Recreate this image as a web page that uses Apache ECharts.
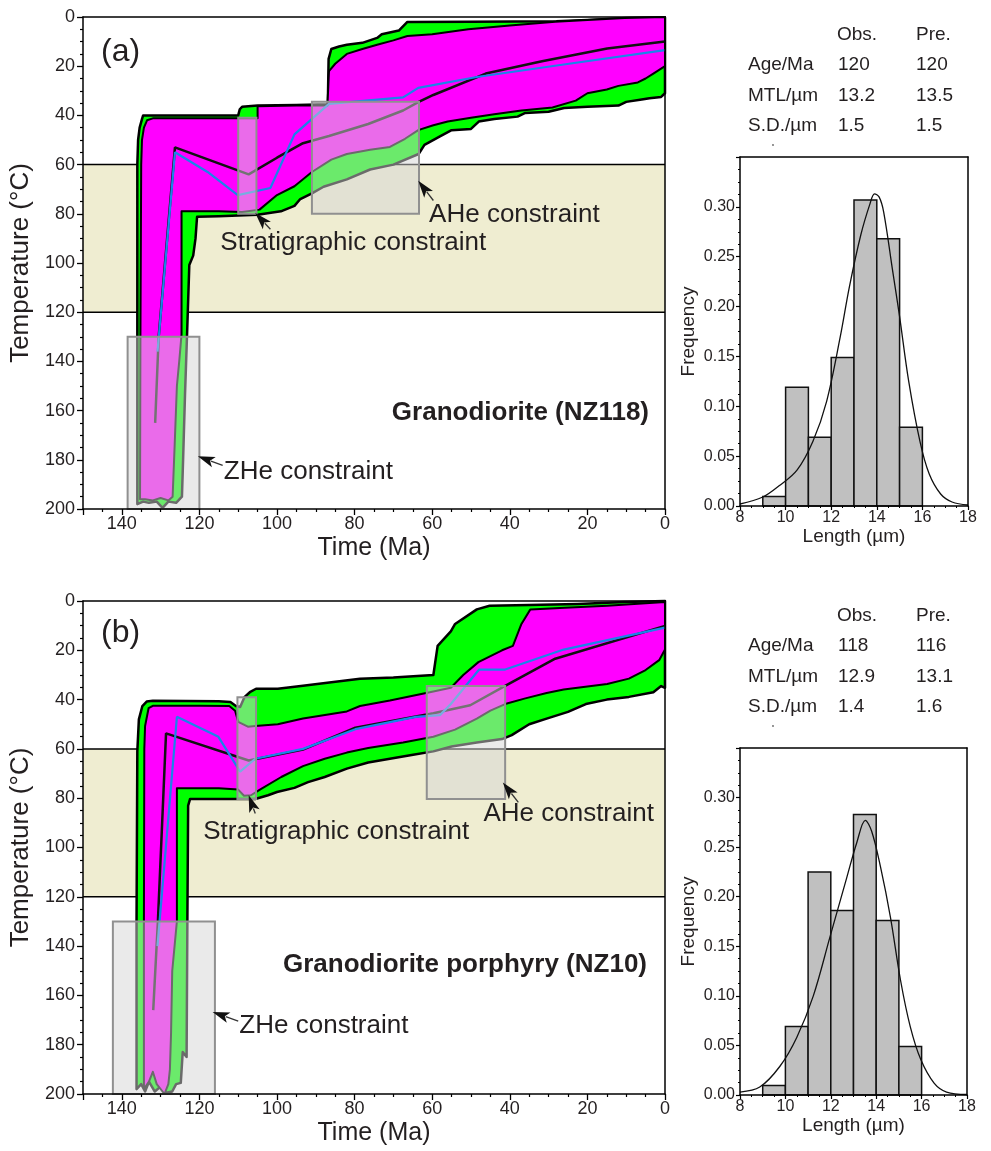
<!DOCTYPE html>
<html>
<head>
<meta charset="utf-8">
<title>Thermal history models</title>
<script src="https://cdn.jsdelivr.net/npm/echarts@6/dist/echarts.min.js"></script>
<style>
  html, body { margin: 0; padding: 0; background: #fff; }
  #chart { width: 991px; height: 1151px; }
</style>
</head>
<body>
<div id="chart"></div>
<script>
// ---------------- data ----------------
const timeMax = 150;          // Ma
const tempMax = 200;          // deg C
const annealZone = [60, 120]; // partial annealing zone, deg C

// (a) Granodiorite (NZ118): envelopes as [time Ma, temperature C]
const acceptA = [
  [136,198],[136,60],[135.8,50],[135.4,45],[134.8,41.5],[134.5,40],
  [110,40],[109.6,37.5],[109,36.5],[105,36],[95,35.8],[86.9,35.5],
  [86.7,17],[86,13],[84,12],[82,11.3],[78,10.5],[74.2,8.5],[73,7],[68.6,5.5],[66.4,2],
  [50,1.9],[28,1.7],[20,1.2],[10,0.4],[0,0.2],
  [0,31],[1,32.5],[4,33],[6,33.5],[10,34.5],[12,36],[20,36.5],[26,37],[30,38.5],[36,39],
  [38,40.5],[44,41.5],[48,42.5],[50,45.5],[55,46],[58,48.5],[62,52],[63.5,55.7],[70,60],
  [76,62],[82,66],[88,69],[91,71.7],[94,74],[95.5,76.8],[99,79],[105,80.4],[115,81],
  [120.6,81.2],[121,90],[121.6,97],[122.6,100.8],[123.2,130],[123.7,153],[124.2,180],
  [124.5,195],[126,197.5],[128,197],[129.5,199.5],[131,197],[133,197.5],[134.5,197]
];
const goodA = [
  [135.3,196],[135.2,130],[135,60],[134.8,50],[134.3,45],[133.5,42],[132,41.2],
  [110,41.2],[105,41.2],[105,36.3],[95,36],[87,36],
  [86.6,22],[85,19],[82,15],[78,13],[74.2,11.3],[70,9.5],[66.4,7.7],[60,7],[50.7,5],
  [40,3.5],[28.3,1.9],[20,1.2],[10.4,0.4],[0,0],
  [0,20],[3,23],[5,25],[7,26.6],[12,28],[15,29.5],[20,31],[23,34],[29,36.8],[37,38],
  [44,39.5],[50,41],[56,42.5],[59.7,44],[63.6,46],[67,49.5],[70.9,52.8],[76,54],[82,55.7],
  [86,58],[91,63],[95.5,68.8],[100,72.4],[104.5,78.3],[109,79.3],[115,79],[124.6,79],
  [124.6,129],[125.2,140],[125.8,150],[126.4,175],[126.9,195],[128,196.5],[130,195.5],
  [132,196.5],[134,196]
];
const meanA = [
  [131.4,165],[130.5,130],[126.3,53],[107.3,64],[100,57.2],[93.3,51.3],[86.6,48.4],
  [76.5,43.5],[67.5,38],[63.6,34.6],[59.7,31.7],[46.2,23],[31.7,18],[14.9,12.8],[0,10]
];
const bestA = [
  [130.8,136],[126.3,55],[117.9,63],[110.1,72.4],[101.7,69.5],[95.5,47.7],[86.6,35.3],
  [67.5,32.7],[63.6,28.8],[48.5,24.4],[26.1,19.3],[0,13.5]
];
// constraint boxes: [t young, T low, t old, T high]
const constraintsA = [
  [120, 130, 138.5, 200],   // ZHe
  [105.3, 41, 110, 80],     // stratigraphic
  [63.4, 34.5, 91, 80]      // AHe
];

// (b) Granodiorite porphyry (NZ10)
const acceptB = [
  [136.2,198],[136.2,130],[136,61],[135.6,48],[134.7,42.6],[133.6,40.8],[132,40.5],
  [115,40.7],[112,41],[110.6,42.6],[109.5,43],[108.4,39],[107,37],[105.4,35.6],[99.8,35.6],
  [93.3,34.4],[86,33],[78.6,31.5],[70,31],[59.7,30],
  [58.6,18.2],[55.2,12.3],[54.1,9.3],[48.5,3.4],[45.2,1.9],[35,1.6],[22.5,1.2],[10.4,0.4],[0,0],
  [0,35.2],[1,34.5],[3,37],[9.3,38.9],[15,40],[20.4,41.8],[25,45],[30.5,47.7],[35,50],
  [39.5,54.4],[42,56],[48.5,57.4],[55,59],[59.7,61],[65.3,62.5],[76.5,65.5],[82,68],
  [87.7,71.4],[92,73.5],[95.5,75.8],[100,77.5],[102.3,78.8],[105.6,80.3],[115,80.3],
  [122.4,80.3],[122.9,83],[123.1,130],[123.3,185],[124.3,183],[124.8,195.5],[126,196],
  [127,199],[128.5,199.5],[130,197],[131.5,199],[133,195],[134,199],[135,196]
];
const goodB = [
  [134.3,198],[134.3,130],[134.2,60],[134,50.7],[133.1,43.5],[132,42.5],
  [120,42.5],[112.3,42.6],[110.8,44.5],[110,49],[107.5,51],[105.6,50.7],[99.8,50],
  [93.3,47.7],[82,44.8],[78.6,42.6],[70.9,40.4],[59.7,36.7],[55.2,35.2],[52,30],[48.1,24.8],
  [42,20],[39.2,18.2],[37,9.3],[34.7,3.4],[25.8,2.7],[14.9,1.9],[0,0.4],
  [0,19.7],[1.5,24],[5,28],[9.3,31.5],[14.9,33.7],[26.1,35.9],[30.5,37.3],[36,39.5],
  [41.2,41.8],[45,44.5],[48.5,47.7],[54.1,52.2],[59.7,55.1],[67.5,57.4],[76.5,59.6],
  [82,61.5],[87.7,64],[93.3,67],[98.9,71.4],[104.5,76.6],[106.7,78.8],[108.5,79],
  [110,76.5],[115,76],[125.8,76],[125.8,130],[127,150],[127.3,175],[127.6,190],[128,196],
  [129,200],[131,196],[132,191],[133,195]
];
const meanB = [
  [131.9,166],[130.7,130],[128.6,53.7],[107.3,64.7],[93.3,60.3],[79.8,51.4],[59.7,45.5],
  [50.2,42.3],[41.2,34.4],[28.3,23.4],[0,10.1]
];
const bestB = [
  [130.8,140],[125.8,47],[115.1,55.1],[109.5,69.2],[105.6,64],[93.3,60],[79.8,52],
  [64.2,47],[58,46.3],[55.2,41.8],[47.9,27.8],[41.2,27.8],[26.1,19.7],[0,10.8]
];
const constraintsB = [
  [116, 130, 142.3, 200],   // ZHe
  [105.4, 39, 110.2, 80.3], // stratigraphic
  [41.2, 34.5, 61.4, 80.3]  // AHe
];
const constraintNames = ['ZHe constraint', 'Stratigraphic constraint', 'AHe constraint'];
const sampleA = 'Granodiorite (NZ118)';
const sampleB = 'Granodiorite porphyry (NZ10)';

// track-length histograms (1 um bins)
const binStarts = [9, 10, 11, 12, 13, 14, 15];
const freqA = [0.0096, 0.119, 0.069, 0.149, 0.307, 0.268, 0.079];
const freqB = [0.0095, 0.069, 0.225, 0.186, 0.283, 0.176, 0.049];
const pdfA = [
  [8,0.002],[9,0.009],[9.7,0.02],[10.5,0.036],[11.2,0.065],[11.8,0.105],[12.4,0.17],
  [12.8,0.22],[13.3,0.272],[13.7,0.303],[13.9,0.313],[14.1,0.31],[14.3,0.295],[14.7,0.235],
  [15.0,0.19],[15.4,0.125],[15.9,0.064],[16.3,0.032],[16.8,0.012],[17.3,0.004],[18,0.001]
];
const pdfB = [
  [8,0.003],[8.87,0.008],[9.76,0.029],[10.5,0.058],[11.23,0.1],[11.97,0.16],[12.7,0.219],
  [13.15,0.255],[13.52,0.277],[13.8,0.266],[14.19,0.23],[14.63,0.179],[15.07,0.116],
  [15.5,0.069],[15.96,0.036],[16.55,0.012],[17.1,0.003],[18,0.0005]
];

// observed vs predicted statistics
const statRows = ['Age/Ma', 'MTL/\u00b5m', 'S.D./\u00b5m'];
const statHead = ['Obs.', 'Pre.'];
const obsA = ['120', '13.2', '1.5'];
const preA = ['120', '13.5', '1.5'];
const obsB = ['118', '12.9', '1.4'];
const preB = ['116', '13.1', '1.6'];

// ---------------- chart ----------------
const FONT = "'Liberation Sans', Arial, Helvetica, sans-serif";
const INK = '#231f20';
const chart = echarts.init(document.getElementById('chart'), null, { renderer: 'canvas' });

const grids = [
  { left: 83, top: 17, width: 582, height: 492 },
  { left: 740, top: 157, width: 228, height: 349 },
  { left: 83, top: 601, width: 582, height: 493 },
  { left: 740, top: 748, width: 227, height: 347 }
];

const axisLineStyle = { onZero: false, lineStyle: { color: '#000', width: 1.5 } };

function frameAxis(g, pos) {
  return {
    gridIndex: g, type: 'value', position: pos, z: 10,
    axisLine: axisLineStyle,
    axisTick: { show: false }, axisLabel: { show: false }, splitLine: { show: false }
  };
}

function timeAxes(g) {
  return [{
    gridIndex: g, type: 'value', position: 'bottom', min: 0, max: timeMax, interval: 20, inverse: true, z: 10,
    axisLine: axisLineStyle,
    axisTick: { length: 6, lineStyle: { color: '#000', width: 1.3 } },
    minorTick: { show: true, splitNumber: 4, length: 3, lineStyle: { color: '#000', width: 1.2 } },
    axisLabel: { fontSize: 18, color: INK, fontFamily: FONT, margin: 6,
      formatter: v => (v === timeMax ? '' : String(v)) },
    splitLine: { show: false }, minorSplitLine: { show: false },
    name: 'Time (Ma)', nameLocation: 'middle', nameGap: 27,
    nameTextStyle: { fontSize: 25, color: INK, fontFamily: FONT }
  }, Object.assign(frameAxis(g, 'top'), { min: 0, max: timeMax, inverse: true })];
}
function tempAxes(g) {
  return [{
    gridIndex: g, type: 'value', position: 'left', min: 0, max: tempMax, interval: 20, inverse: true, z: 10,
    axisLine: axisLineStyle,
    axisTick: { length: 6, lineStyle: { color: '#000', width: 1.3 } },
    minorTick: { show: true, splitNumber: 4, length: 3, lineStyle: { color: '#000', width: 1.2 } },
    axisLabel: { fontSize: 18, color: INK, fontFamily: FONT, margin: 8 },
    splitLine: { show: false }, minorSplitLine: { show: false },
    name: 'Temperature (\u00b0C)', nameLocation: 'middle', nameGap: 48,
    nameTextStyle: { fontSize: 26, color: INK, fontFamily: FONT }
  }, Object.assign(frameAxis(g, 'right'), { min: 0, max: tempMax, inverse: true })];
}
function lengthAxes(g) {
  return [{
    gridIndex: g, type: 'value', position: 'bottom', min: 8, max: 18, interval: 2, z: 10,
    axisLine: axisLineStyle,
    axisTick: { length: 4, lineStyle: { color: '#000', width: 1.2 } },
    minorTick: { show: true, splitNumber: 4, length: 2, lineStyle: { color: '#000' } },
    axisLabel: { fontSize: 16, color: INK, fontFamily: FONT, margin: 4 },
    splitLine: { show: false },
    name: 'Length (\u00b5m)', nameLocation: 'middle', nameGap: 19,
    nameTextStyle: { fontSize: 19, color: INK, fontFamily: FONT }
  }, Object.assign(frameAxis(g, 'top'), { min: 8, max: 18 })];
}
function freqAxes(g) {
  return [{
    gridIndex: g, type: 'value', position: 'left', min: 0, max: 0.35, interval: 0.05, z: 10,
    axisLine: axisLineStyle,
    axisTick: { length: 4, lineStyle: { color: '#000', width: 1.2 } },
    minorTick: { show: true, splitNumber: 4, length: 2, lineStyle: { color: '#000' } },
    axisLabel: { fontSize: 16, color: INK, fontFamily: FONT, margin: 5,
      formatter: v => (v > 0.345 ? '' : v.toFixed(2)) },
    splitLine: { show: false },
    name: 'Frequency', nameLocation: 'middle', nameGap: 42,
    nameTextStyle: { fontSize: 19, color: INK, fontFamily: FONT }
  }, Object.assign(frameAxis(g, 'right'), { min: 0, max: 0.35 })];
}

// partial annealing zone band with its boundary lines
function zoneSeries(ax) {
  return {
    type: 'custom', xAxisIndex: ax, yAxisIndex: ax, z: 1, silent: true,
    data: [[annealZone[0], annealZone[1]]],
    renderItem(params, api) {
      const a = api.coord([timeMax, api.value(0)]);
      const b = api.coord([0, api.value(1)]);
      return { type: 'group', children: [
        { type: 'rect', shape: { x: a[0], y: a[1], width: b[0] - a[0], height: b[1] - a[1] },
          style: { fill: '#efedd1' } },
        { type: 'line', shape: { x1: a[0], y1: a[1], x2: b[0], y2: a[1] }, style: { stroke: '#000', lineWidth: 1.5 } },
        { type: 'line', shape: { x1: a[0], y1: b[1], x2: b[0], y2: b[1] }, style: { stroke: '#000', lineWidth: 1.5 } }
      ] };
    }
  };
}

// filled path envelope drawn as one polygon
function envelopeSeries(ax, pts, fill, lw, z) {
  return {
    type: 'custom', xAxisIndex: ax, yAxisIndex: ax, z: z, silent: true, data: pts,
    renderItem(params, api) {
      if (params.dataIndex !== 0) return null;
      return { type: 'polygon',
        shape: { points: pts.map(p => api.coord(p)) },
        style: { fill: fill, stroke: '#000', lineWidth: lw, lineJoin: 'round' } };
    }
  };
}

function pathSeries(ax, pts, color, w, z) {
  return { type: 'line', xAxisIndex: ax, yAxisIndex: ax, z: z, silent: true, data: pts,
    showSymbol: false, symbol: 'none', lineStyle: { color: color, width: w } };
}

// translucent constraint boxes
function constraintSeries(ax, boxes) {
  return {
    type: 'custom', xAxisIndex: ax, yAxisIndex: ax, z: 6, silent: true, data: boxes,
    renderItem(params, api) {
      const p = api.coord([api.value(0), api.value(1)]);
      const q = api.coord([api.value(2), api.value(3)]);
      return { type: 'rect',
        shape: { x: Math.min(p[0], q[0]), y: Math.min(p[1], q[1]),
                 width: Math.abs(q[0] - p[0]), height: Math.abs(q[1] - p[1]) },
        style: { fill: 'rgba(214,214,214,0.5)', stroke: '#909090', lineWidth: 2 } };
    }
  };
}

// arrow call-outs: [t text, T text, t tail, T tail, t head, T head]
function calloutSeries(ax, items, names) {
  return {
    type: 'custom', xAxisIndex: ax, yAxisIndex: ax, z: 20, silent: true, clip: false, data: items,
    renderItem(params, api) {
      const txt = api.coord([api.value(0), api.value(1)]);
      const tail = api.coord([api.value(2), api.value(3)]);
      const head = api.coord([api.value(4), api.value(5)]);
      const dx = head[0] - tail[0], dy = head[1] - tail[1];
      const L = Math.hypot(dx, dy) || 1, ux = dx / L, uy = dy / L;
      const hl = 17, hw = 5.5;
      const bx = head[0] - ux * hl, by = head[1] - uy * hl;
      return { type: 'group', children: [
        { type: 'line', shape: { x1: tail[0], y1: tail[1], x2: bx + ux * 3, y2: by + uy * 3 },
          style: { stroke: '#333', lineWidth: 1.3 } },
        { type: 'polygon', shape: { points: [head, [bx - uy * hw, by + ux * hw], [bx + ux * 4, by + uy * 4], [bx + uy * hw, by - ux * hw]] },
          style: { fill: '#111' } },
        { type: 'text', x: txt[0], y: txt[1],
          style: { text: names[params.dataIndex], fontSize: 26, fontFamily: FONT, fill: INK,
                   align: 'left', verticalAlign: 'middle' } }
      ] };
    }
  };
}

function barsSeries(ax, freqs) {
  return {
    type: 'custom', xAxisIndex: ax, yAxisIndex: ax, z: 3, silent: true,
    data: freqs.map((f, i) => [binStarts[i], f, binStarts[i] + 1]),
    renderItem(params, api) {
      const p = api.coord([api.value(0), 0]);
      const q = api.coord([api.value(2), api.value(1)]);
      return { type: 'rect', shape: { x: p[0], y: q[1], width: q[0] - p[0], height: p[1] - q[1] },
        style: { fill: '#c0c0c0', stroke: '#111', lineWidth: 1.5 } };
    }
  };
}

function curveSeries(ax, pts) {
  return { type: 'line', xAxisIndex: ax, yAxisIndex: ax, z: 5, silent: true, data: pts,
    smooth: 0.35, showSymbol: false, symbol: 'none', lineStyle: { color: '#111', width: 1.3 } };
}

const calloutsA = [
  [113.7, 184.9, 114, 182.3, 120.4, 178.6],
  [114.6, 91.8, 101.7, 86.3, 105.6, 79.7],
  [60.8, 80.4, 59.7, 74.6, 63.6, 66.6]
];
const calloutsB = [
  [109.7, 172.2, 110, 170.4, 116.6, 166.7],
  [119, 93.6, 105.6, 86.2, 107.3, 78.8],
  [46.8, 86.2, 37.8, 81.7, 41.8, 73.6]
];

function statTable(top, obs, pre) {
  const rowsY = [top + 29.6, top + 60.5, top + 90.7];
  const txt = (x, y, s) => ({ type: 'text', x: x, y: y,
    style: { text: s, fontSize: 19, fontFamily: FONT, fill: INK, verticalAlign: 'middle' } });
  const els = [txt(837, top, statHead[0]), txt(916, top, statHead[1])];
  statRows.forEach((r, i) => {
    els.push(txt(748, rowsY[i], r), txt(838, rowsY[i], obs[i]), txt(916, rowsY[i], pre[i]));
  });
  els.push({ type: 'circle', shape: { cx: 773, cy: top + 110, r: 0.9 }, style: { fill: '#666' } });
  return els;
}

const option = {
  backgroundColor: '#fff',
  animation: false,
  grid: grids.map(g => Object.assign({ containLabel: false }, g)),
  xAxis: [].concat(timeAxes(0), lengthAxes(1), timeAxes(2), lengthAxes(3)),
  yAxis: [].concat(tempAxes(0), freqAxes(1), tempAxes(2), freqAxes(3)),
  series: [
    zoneSeries(0),
    envelopeSeries(0, acceptA, '#00ff00', 2.5, 2),
    envelopeSeries(0, goodA, '#ff00ff', 2, 3),
    pathSeries(0, meanA, '#111', 2.5, 4),
    pathSeries(0, bestA, '#1b84e8', 2.2, 5),
    constraintSeries(0, constraintsA),
    calloutSeries(0, calloutsA, constraintNames),

    barsSeries(2, freqA),
    curveSeries(2, pdfA),

    zoneSeries(4),
    envelopeSeries(4, acceptB, '#00ff00', 2.5, 2),
    envelopeSeries(4, goodB, '#ff00ff', 2, 3),
    pathSeries(4, meanB, '#111', 2.5, 4),
    pathSeries(4, bestB, '#1b84e8', 2.2, 5),
    constraintSeries(4, constraintsB),
    calloutSeries(4, calloutsB, constraintNames),

    barsSeries(6, freqB),
    curveSeries(6, pdfB)
  ],
  graphic: [].concat(
    [
      { type: 'text', x: 101, y: 52, style: { text: '(a)', fontSize: 32, fontFamily: FONT, fill: INK, verticalAlign: 'middle' } },
      { type: 'text', x: 101, y: 633, style: { text: '(b)', fontSize: 32, fontFamily: FONT, fill: INK, verticalAlign: 'middle' } },
      { type: 'text', x: 649, y: 413, style: { text: sampleA, fontSize: 26, fontWeight: 'bold', fontFamily: FONT, fill: INK, align: 'right', verticalAlign: 'middle' } },
      { type: 'text', x: 647, y: 965, style: { text: sampleB, fontSize: 26, fontWeight: 'bold', fontFamily: FONT, fill: INK, align: 'right', verticalAlign: 'middle' } }
    ],
    statTable(35, obsA, preA),
    statTable(616, obsB, preB)
  )
};

chart.setOption(option);
</script>
</body>
</html>
